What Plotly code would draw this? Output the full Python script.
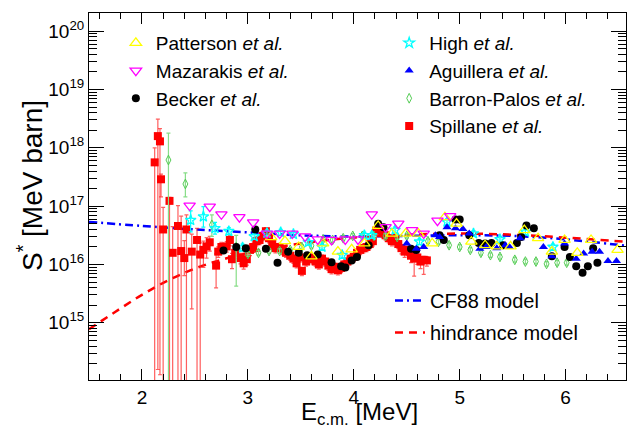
import plotly.graph_objects as go

# ---------------------------------------------------------------------------
# Astrophysical S* factor data (E_c.m. in MeV, log10 of S* in MeV barn)
# ---------------------------------------------------------------------------

# Spillane et al.
spill_E = [2.12, 2.15, 2.17, 2.18, 2.20, 2.26, 2.29, 2.34, 2.37, 2.40, 2.42, 2.47, 2.52, 2.55,
           2.58, 2.61, 2.64, 2.70, 2.72, 2.75, 2.80, 2.83, 2.85, 2.88, 2.93, 2.96, 2.99, 3.02,
           3.05, 3.08, 3.11, 3.14, 3.17, 3.20, 3.23, 3.26, 3.30, 3.33, 3.36, 3.40, 3.43, 3.46,
           3.49, 3.51, 3.55, 3.58, 3.61, 3.64, 3.67, 3.70, 3.73, 3.76, 3.79, 3.82, 3.85, 3.88,
           3.91, 3.94, 3.97, 4.00, 4.03, 4.06, 4.09, 4.12, 4.15, 4.18, 4.21, 4.24, 4.27, 4.30,
           4.33, 4.36, 4.39, 4.42, 4.45, 4.48, 4.51, 4.54, 4.57, 4.60, 4.63, 4.66, 4.69]
spill_logS = [17.75, 18.20, 18.11, 17.46, 16.60, 17.09, 16.20, 16.66, 16.23, 16.11, 16.60, 16.22, 16.42, 16.17,
              16.25, 16.31, 16.38, 15.98, 16.22, 16.30, 16.31, 16.42, 16.09, 16.20, 16.11, 16.02, 16.09, 16.25,
              16.30, 16.40, 16.42, 16.49, 16.57, 16.45, 16.35, 16.28, 16.30, 16.25, 16.20, 16.15, 16.10, 16.02,
              16.12, 15.89, 16.05, 16.12, 16.09, 16.05, 16.00, 16.10, 16.05, 15.98, 15.92, 15.96, 15.90, 15.94,
              16.00, 16.05, 16.10, 16.13, 16.20, 16.25, 16.28, 16.30, 16.35, 16.40, 16.58, 16.62, 16.55, 16.50,
              16.45, 16.40, 16.42, 16.35, 16.28, 16.22, 16.25, 16.15, 16.10, 16.12, 16.05, 16.08, 16.07]
spill_err_up = [0.25, 0.29, 0.22, 0.09, 0.38, 0.06, 0.45, 0.35, 0.60, 0.30, 0.25, 0.30, 0.20, 0.20,
                0.15, 0.15, 0.10, 0.20, 0.08, 0.08, 0.08, 0.08, 0.10, 0.08, 0.08, 0.08, 0.08, 0.08,
                0.06, 0.06, 0.06, 0.06, 0.06, 0.06, 0.06, 0.06, 0.06, 0.06, 0.06, 0.06, 0.06, 0.06,
                0.06, 0.06, 0.06, 0.06, 0.06, 0.06, 0.06, 0.06, 0.06, 0.06, 0.06, 0.06, 0.06, 0.06,
                0.06, 0.06, 0.06, 0.06, 0.06, 0.06, 0.06, 0.06, 0.06, 0.06, 0.06, 0.06, 0.06, 0.06,
                0.06, 0.06, 0.06, 0.06, 0.06, 0.06, 0.06, 0.06, 0.06, 0.06, 0.06, 0.06, 0.06]
spill_err_dn = [4.00, 4.00, 4.00, 0.30, 4.00, 4.00, 4.00, 4.00, 4.00, 0.30, 4.00, 0.98, 4.00, 4.00,
                0.30, 0.20, 0.15, 0.38, 0.10, 0.10, 0.10, 0.10, 0.16, 0.10, 0.10, 0.10, 0.10, 0.10,
                0.08, 0.08, 0.08, 0.08, 0.08, 0.08, 0.08, 0.08, 0.08, 0.08, 0.08, 0.08, 0.08, 0.08,
                0.08, 0.08, 0.08, 0.08, 0.08, 0.08, 0.08, 0.08, 0.08, 0.08, 0.08, 0.08, 0.08, 0.08,
                0.08, 0.08, 0.08, 0.08, 0.08, 0.08, 0.08, 0.08, 0.08, 0.08, 0.08, 0.08, 0.08, 0.08,
                0.08, 0.08, 0.08, 0.08, 0.10, 0.10, 0.10, 0.12, 0.30, 0.12, 0.12, 0.25, 0.10]

# Patterson et al.
patt_E = [3.22, 3.35, 3.48, 3.60, 3.71, 3.85, 3.98, 4.10, 4.23, 4.36, 4.49, 4.61, 4.74,
          4.86, 4.97, 5.11, 5.24, 5.35, 5.48, 5.61, 5.74, 5.87, 5.99, 6.11, 6.24, 6.49]
patt_logS = [16.47, 16.40, 16.30, 16.14, 16.36, 16.22, 16.26, 16.36, 16.66, 16.53, 16.53, 16.53, 16.36,
             16.81, 16.70, 16.39, 16.33, 16.31, 16.31, 16.59, 16.45, 16.22, 16.42, 16.20, 16.42, 16.25]

# Mazarakis et al.
maza_E = [2.45, 2.64, 2.75, 2.92, 3.05, 3.18, 3.30, 3.42, 3.54, 3.66,
          3.79, 3.92, 4.04, 4.17, 4.30, 4.42, 4.55, 4.66, 4.79, 4.91]
maza_logS = [17.01, 16.99, 16.86, 16.81, 16.72, 16.53, 16.53, 16.53, 16.48, 16.43,
             16.42, 16.43, 16.43, 16.86, 16.64, 16.70, 16.59, 16.53, 16.75, 16.83]

# Becker et al.
beck_E = [2.77, 2.89, 2.98, 3.07, 3.17, 3.28, 3.38, 3.48, 3.56, 3.66, 3.79, 3.88, 3.92, 3.98,
          4.03, 4.14, 4.23, 4.28, 4.54, 4.59, 4.81, 4.85, 4.96, 5.00, 5.09, 5.18, 5.24, 5.30,
          5.41, 5.54, 5.58, 5.63, 5.70, 5.87, 5.99, 6.04, 6.10, 6.16, 6.21, 6.26, 6.30]
beck_logS = [16.24, 16.30, 16.28, 16.60, 16.27, 16.03, 16.22, 16.20, 16.16, 16.17, 16.04, 15.97, 15.95, 16.07,
             16.13, 16.33, 16.70, 16.64, 16.27, 16.25, 16.50, 16.42, 16.77, 16.77, 16.50, 16.37, 16.36, 16.37,
             16.33, 16.37, 16.47, 16.67, 16.62, 16.14, 16.30, 16.13, 15.97, 15.86, 15.97, 16.28, 16.03]

# High et al.
high_E = [2.46, 2.58, 2.69, 2.82, 2.95, 3.06, 3.18, 3.31, 3.43, 3.57, 3.70,
          3.89, 4.10, 4.17, 4.39, 4.62, 4.88, 5.13, 5.38, 5.62, 5.88]
high_logS = [16.76, 16.82, 16.62, 16.57, 16.29, 16.48, 16.54, 16.55, 16.52, 16.38, 16.30,
             16.16, 16.50, 16.50, 16.59, 16.39, 16.73, 16.53, 16.43, 16.56, 16.30]
high_err_up = [0.16, 0.17, 0.10, 0.06, 0.06, 0.05, 0.05, 0.05, 0.05, 0.05, 0.05,
               0.05, 0.05, 0.05, 0.05, 0.05, 0.05, 0.05, 0.05, 0.05, 0.05]
high_err_dn = [0.20, 0.18, 0.10, 0.06, 0.06, 0.05, 0.05, 0.05, 0.05, 0.05, 0.05,
               0.05, 0.05, 0.05, 0.05, 0.05, 0.05, 0.05, 0.05, 0.05, 0.05]

# Aguillera et al.
agui_E = [4.50, 4.59, 4.66, 4.77, 4.81, 4.88, 4.96, 5.03, 5.09, 5.19, 5.25, 5.35,
          5.43, 5.47, 5.57, 5.79, 5.87, 5.99, 6.10, 6.17, 6.25, 6.32, 6.40, 6.48]
agui_logS = [16.36, 16.27, 16.30, 16.50, 16.47, 16.64, 16.62, 16.61, 16.53, 16.27, 16.30, 16.28,
             16.33, 16.30, 16.45, 16.30, 16.14, 16.36, 16.10, 16.19, 16.22, 16.22, 16.06, 16.06]

# Barron-Palos et al.
barr_E = [2.25, 2.41, 2.66, 2.89, 3.00, 3.10, 3.20, 3.30, 3.40, 3.51, 3.60, 3.71,
          3.80, 3.90, 3.99, 4.08, 4.19, 4.30, 4.41, 4.50, 4.70, 4.80, 4.90, 5.00,
          5.10, 5.20, 5.29, 5.38, 5.52, 5.62, 5.72, 5.82, 5.92, 6.01]
barr_logS = [17.79, 17.38, 16.68, 16.30, 16.18, 16.20, 16.23, 16.23, 16.25, 16.30, 16.32, 16.43,
             16.42, 16.45, 16.49, 16.49, 16.49, 16.49, 16.47, 16.49, 16.40, 16.39, 16.33, 16.30,
             16.25, 16.20, 16.16, 16.13, 16.08, 16.05, 16.05, 16.01, 16.03, 16.03]
barr_err_up = [0.46, 0.19, 0.17, 0.20, 0.04, 0.04, 0.04, 0.04, 0.04, 0.04, 0.04, 0.04,
               0.04, 0.04, 0.04, 0.04, 0.04, 0.04, 0.04, 0.04, 0.04, 0.04, 0.04, 0.04,
               0.04, 0.04, 0.04, 0.04, 0.04, 0.04, 0.04, 0.04, 0.04, 0.04]
barr_err_dn = [4.00, 0.22, 0.20, 0.67, 0.04, 0.04, 0.04, 0.04, 0.04, 0.04, 0.04, 0.04,
               0.04, 0.04, 0.04, 0.04, 0.04, 0.04, 0.04, 0.04, 0.04, 0.04, 0.04, 0.04,
               0.04, 0.04, 0.04, 0.04, 0.04, 0.04, 0.04, 0.04, 0.04, 0.04]

# Model curves
cf88_E = [1.5, 2.0, 2.5, 3.0, 3.5, 4.0, 4.5, 5.0, 5.5, 6.0, 6.57]
cf88_logS = [16.73, 16.66, 16.60, 16.55, 16.50, 16.48, 16.49, 16.50, 16.49, 16.43, 16.32]
hind_E = [1.5, 1.75, 2.0, 2.25, 2.5, 2.75, 3.0, 3.5, 4.0, 4.5, 5.0, 5.5, 6.0, 6.57]
hind_logS = [14.89, 15.19, 15.48, 15.73, 15.93, 16.08, 16.20, 16.36, 16.46, 16.51, 16.53, 16.51, 16.46, 16.39]

# Axis labels
y_decades = [15, 16, 17, 18, 19, 20]
x_range = [1.5, 6.57]
y_log_range = [14.02, 20.31]

FONT = "Liberation Sans, Arial, sans-serif"


def lin(vals):
    return [10.0 ** v for v in vals]


def err_bars(logs, up, dn, color, width=1.2):
    plus = [10.0 ** (l + u) - 10.0 ** l for l, u in zip(logs, up)]
    minus = [10.0 ** l - 10.0 ** (l - d) for l, d in zip(logs, dn)]
    return dict(type="data", symmetric=False, array=plus, arrayminus=minus,
                color=color, thickness=width, width=2)


fig = go.Figure()

# model curves
fig.add_trace(go.Scatter(
    x=cf88_E, y=lin(cf88_logS), mode="lines", line_shape="spline",
    line=dict(color="#0000FF", width=2.5, dash="8px,4px,2px,4px"),
    name="CF88 model", legend="legend3", legendgroup="cf88", legendrank=1))
fig.add_trace(go.Scatter(
    x=hind_E, y=lin(hind_logS), mode="lines", line_shape="spline",
    line=dict(color="#FF0000", width=2.5, dash="8px,6px"),
    name="hindrance model", legend="legend3", legendgroup="hind", legendrank=2))

# data sets
fig.add_trace(go.Scatter(
    x=spill_E, y=lin(spill_logS), mode="markers",
    marker=dict(symbol="square", size=8, color="#FF0000"),
    error_y=err_bars(spill_logS, spill_err_up, spill_err_dn, "rgba(255,40,40,0.75)"),
    name="Spillane <i>et al.</i>", legend="legend2", legendrank=4))
fig.add_trace(go.Scatter(
    x=barr_E, y=lin(barr_logS), mode="markers",
    marker=dict(symbol="diamond-tall-open", size=7, color="#55CC55", line=dict(width=1)),
    error_y=err_bars(barr_logS, barr_err_up, barr_err_dn, "#88DD88"),
    name="Barron-Palos <i>et al.</i>", legend="legend2", legendrank=3))
fig.add_trace(go.Scatter(
    x=high_E, y=lin(high_logS), mode="markers",
    marker=dict(symbol="star-open", size=8, color="#00FFFF", line=dict(width=1.3)),
    error_y=err_bars(high_logS, high_err_up, high_err_dn, "#00FFFF"),
    name="High <i>et al.</i>", legend="legend2", legendrank=1))
fig.add_trace(go.Scatter(
    x=beck_E, y=lin(beck_logS), mode="markers",
    marker=dict(symbol="circle", size=8, color="#000000"),
    name="Becker <i>et al.</i>", legend="legend", legendrank=3))
fig.add_trace(go.Scatter(
    x=agui_E, y=lin(agui_logS), mode="markers",
    marker=dict(symbol="triangle-up", size=8, color="#0000FF"),
    name="Aguillera <i>et al.</i>", legend="legend2", legendrank=2))
fig.add_trace(go.Scatter(
    x=patt_E, y=lin(patt_logS), mode="markers",
    marker=dict(symbol="triangle-up-open", size=10, color="#FFFF00", line=dict(width=1.3)),
    name="Patterson <i>et al.</i>", legend="legend", legendrank=1))
fig.add_trace(go.Scatter(
    x=maza_E, y=lin(maza_logS), mode="markers",
    marker=dict(symbol="triangle-down-open", size=10, color="#FF00FF", line=dict(width=1.3)),
    name="Mazarakis <i>et al.</i>", legend="legend", legendrank=2))

minor_y = [k * 10.0 ** d for d in range(14, 21) for k in range(2, 10)]

axis_common = dict(showline=True, linecolor="black", linewidth=1, mirror="ticks",
                   ticks="inside", tickcolor="black", tickwidth=1,
                   showgrid=False, zeroline=False,
                   tickfont=dict(family=FONT, size=19, color="black"))

fig.update_xaxes(range=x_range, tickmode="linear", tick0=0, dtick=1, ticklen=11,
                 minor=dict(ticks="inside", ticklen=6, tickmode="linear", tick0=0, dtick=0.2,
                            tickcolor="black", showgrid=False),
                 **axis_common)
fig.update_yaxes(type="log", range=y_log_range,
                 tickmode="array", tickvals=[10.0 ** d for d in y_decades],
                 ticktext=[f"10<sup>{d}</sup>" for d in y_decades], ticklen=15,
                 minor=dict(ticks="inside", ticklen=8, tickmode="array", tickvals=minor_y,
                            tickcolor="black", showgrid=False),
                 **axis_common)

legend_common = dict(bgcolor="rgba(0,0,0,0)", borderwidth=0, xanchor="left", yanchor="top",
                     font=dict(family=FONT, size=19, color="black"), tracegroupgap=0)

fig.update_layout(
    width=627, height=432,
    margin=dict(l=89, r=1, t=13, b=52),
    paper_bgcolor="white", plot_bgcolor="white",
    showlegend=True,
    legend=dict(x=0.05, y=0.97, **legend_common),
    legend2=dict(x=0.559, y=0.97, **legend_common),
    legend3=dict(x=0.5605, y=0.27, **{**legend_common,
                                      "font": dict(family=FONT, size=20, color="black"),
                                      "tracegroupgap": 3}),
    annotations=[
        dict(text="S<sup>*</sup> [MeV barn]", textangle=-90, xref="paper", yref="paper",
             x=-0.11, y=0.531, xanchor="center", yanchor="middle", showarrow=False,
             font=dict(family=FONT, size=28, color="black")),
        dict(text="E<sub>c.m.</sub> [MeV]", xref="paper", yref="paper",
             x=0.503, y=-0.092, xanchor="center", yanchor="middle", showarrow=False,
             font=dict(family=FONT, size=24, color="black")),
    ],
)

fig.write_html("out.html")
